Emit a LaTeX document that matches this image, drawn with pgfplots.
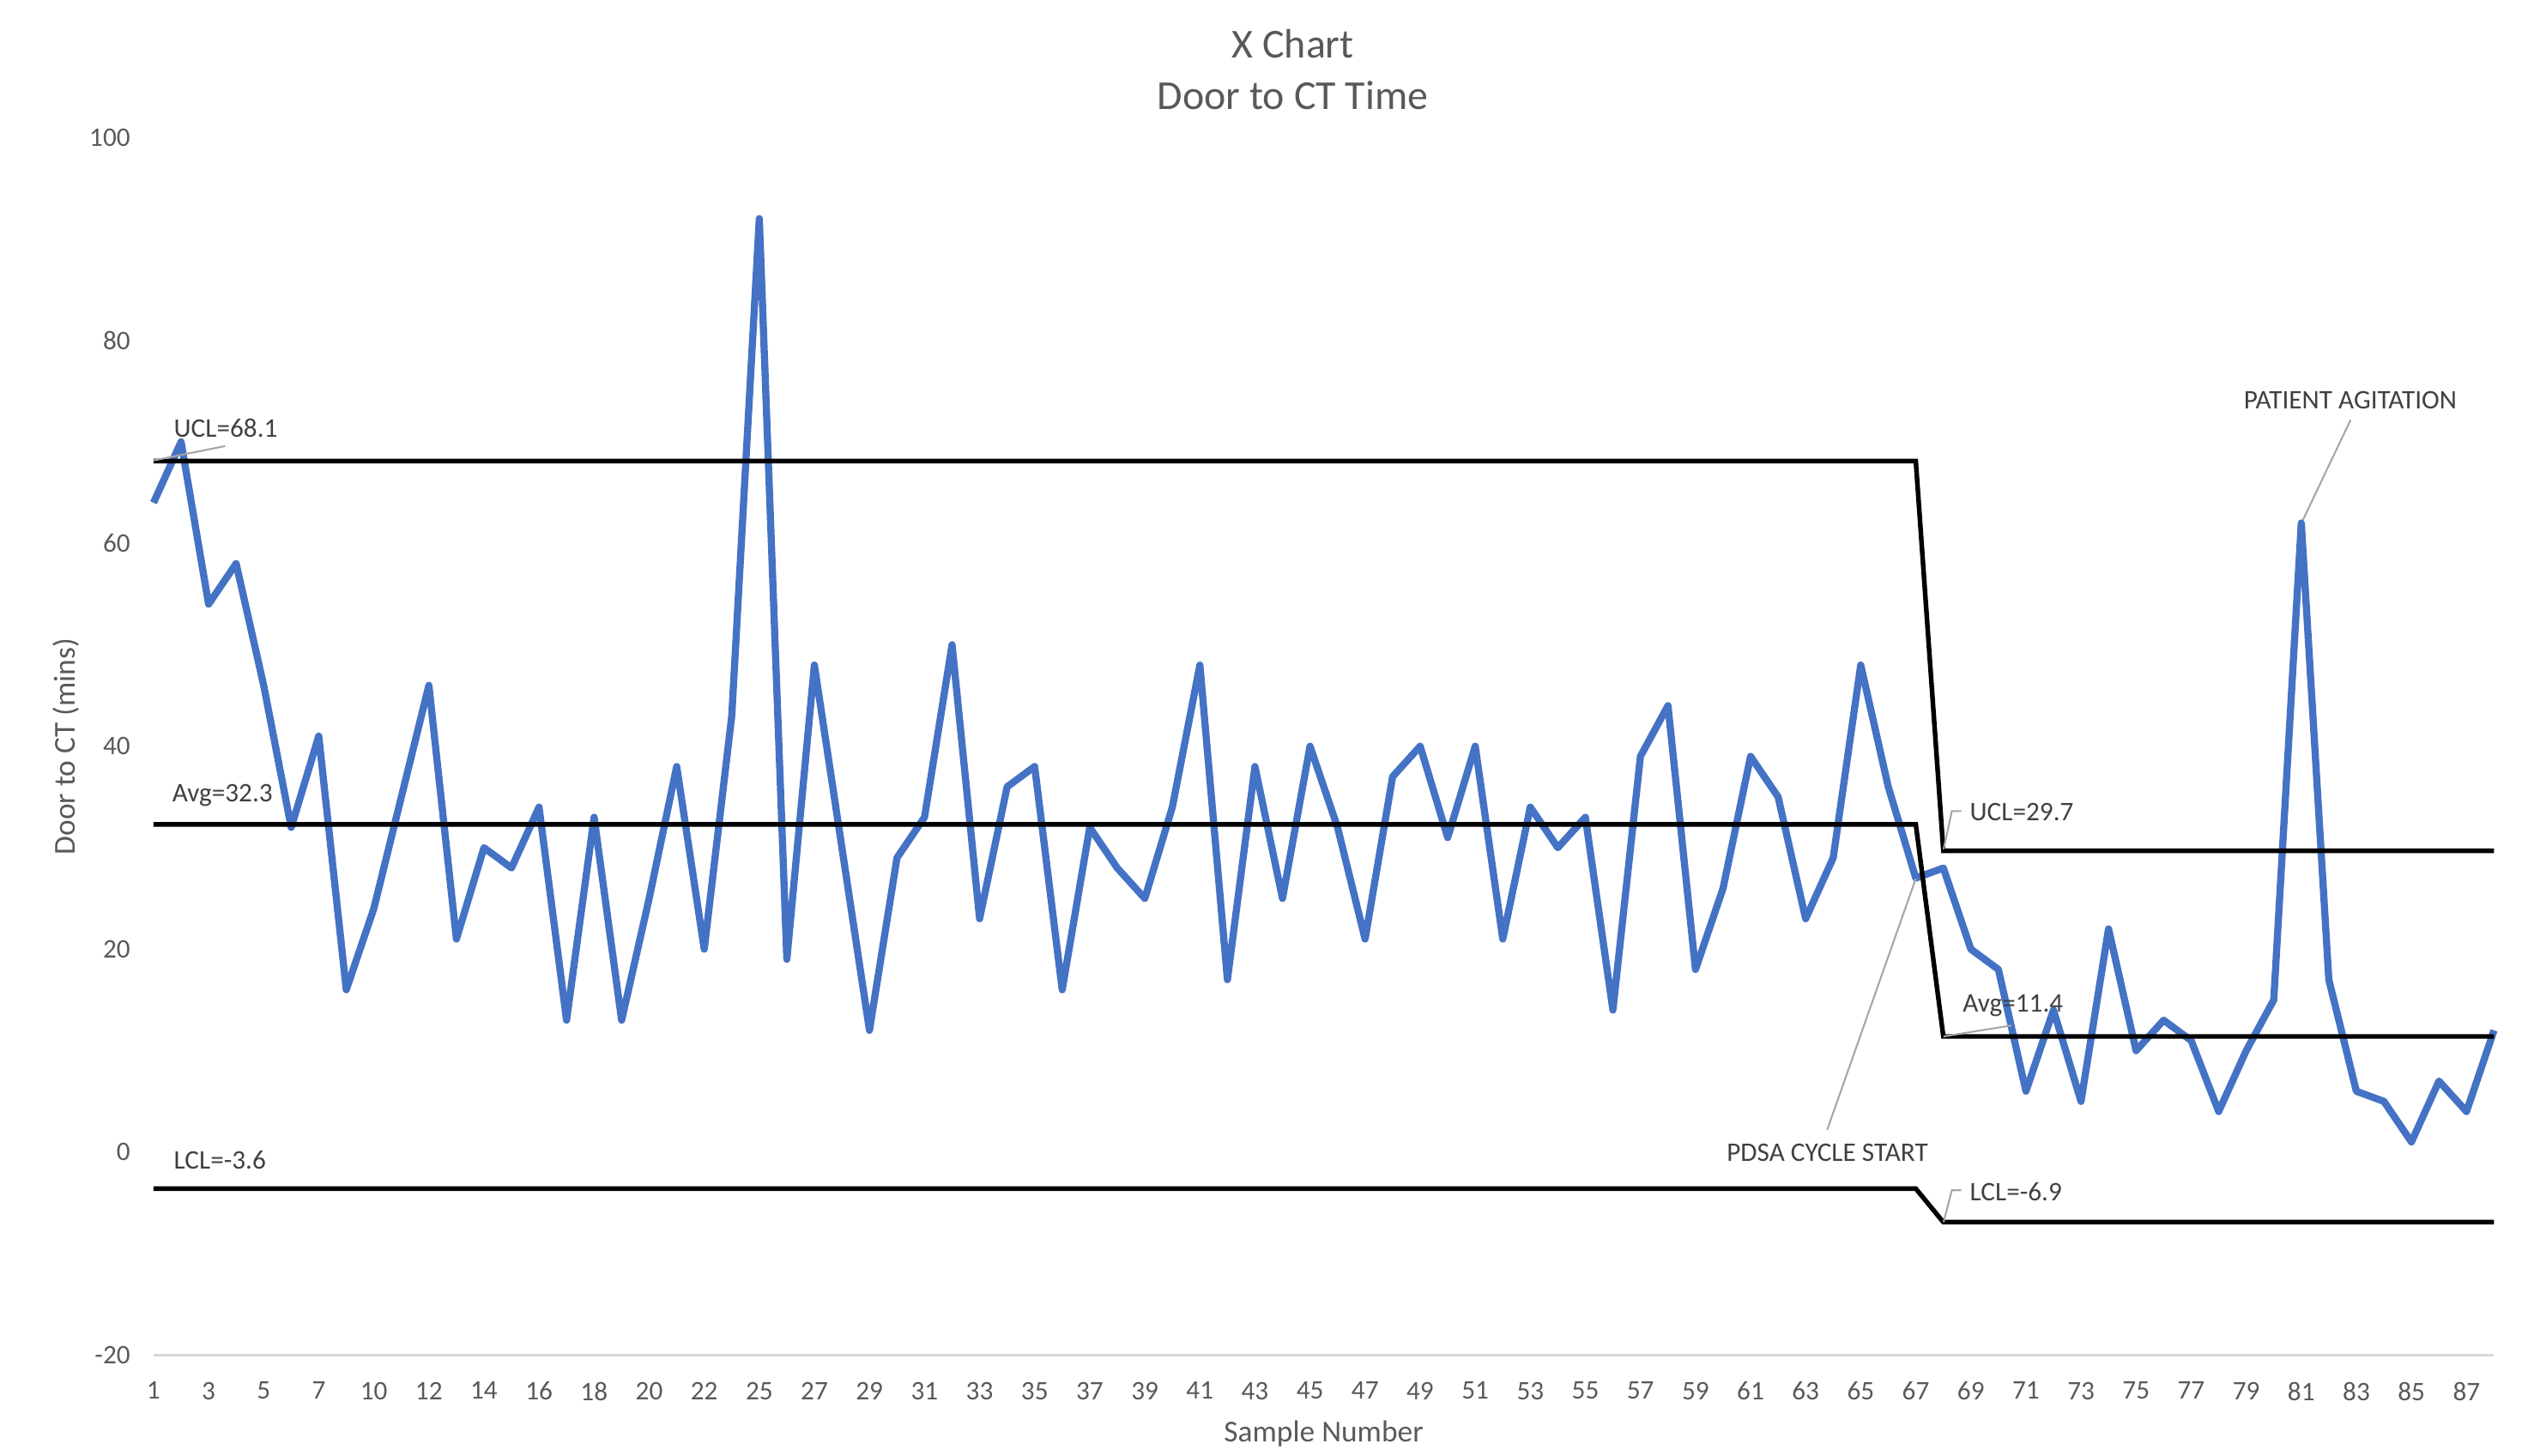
\documentclass[border=0pt]{standalone}
\usepackage{fontspec}
\setmainfont{Carlito}
\usepackage{pgfplots}
\pgfplotsset{compat=1.18}
\definecolor{txt}{HTML}{595959}
\definecolor{lbl}{HTML}{404040}
\definecolor{ser}{HTML}{4472C4}
\definecolor{axl}{HTML}{D9D9D9}
\definecolor{lead}{HTML}{A6A6A6}
\begin{document}
\begin{tikzpicture}
\path[use as bounding box] (0,0) rectangle (708.72pt,407.04pt);
\node[text=txt, font=\fontsize{11.5}{13}\selectfont] at (361.6pt,394.8pt) {X Chart};
\node[text=txt, font=\fontsize{11.5}{13}\selectfont] at (361.6pt,380.4pt) {Door to CT Time};
\node[text=txt, font=\fontsize{8.5}{10}\selectfont, rotate=90] at (18.6pt,198.2pt) {Door to CT (mins)};
\node[text=txt, font=\fontsize{8.5}{10}\selectfont] at (370.2pt,6.1pt) {Sample Number};
\begin{axis}[
  at={(42.94pt,28pt)}, anchor=south west, scale only axis,
  width=654.6pt, height=340.6pt,
  xmin=0, xmax=85, ymin=-20, ymax=100,
  ytick={-20,0,20,40,60,80,100},
  yticklabels={-20,0,20,40,60,80,100},
  xtick={0,2,...,84},
  xticklabels={1,3,5,7,10,12,14,16,18,20,22,25,27,29,31,33,35,37,39,41,43,45,47,49,51,53,55,57,59,61,63,65,67,69,71,73,75,77,79,81,83,85,87},
  axis line style={draw=none},
  major tick length=0pt,
  tick label style={text=txt, font=\fontsize{7.5}{9}\selectfont},
  yticklabel style={xshift=-3pt},
  xticklabel style={yshift=-4pt},
  clip=false,
]
\draw[axl, line width=0.6pt] (axis cs:0,-20) -- (axis cs:85,-20);
\addplot[ser, line width=2pt, line join=round, mark=none] coordinates {
(0,64) (1,70) (2,54) (3,58) (4,46) (5,32) (6,41) (7,16) (8,24) (9,35)
(10,46) (11,21) (12,30) (13,28) (14,34) (15,13) (16,33) (17,13) (18,25) (19,38)
(20,20) (21,43) (22,92) (23,19) (24,48) (25,30) (26,12) (27,29) (28,33) (29,50)
(30,23) (31,36) (32,38) (33,16) (34,32) (35,28) (36,25) (37,34) (38,48) (39,17)
(40,38) (41,25) (42,40) (43,32) (44,21) (45,37) (46,40) (47,31) (48,40) (49,21)
(50,34) (51,30) (52,33) (53,14) (54,39) (55,44) (56,18) (57,26) (58,39) (59,35)
(60,23) (61,29) (62,48) (63,36) (64,27) (65,28) (66,20) (67,18) (68,6) (69,14)
(70,5) (71,22) (72,10) (73,13) (74,11) (75,4) (76,10) (77,15) (78,62) (79,17)
(80,6) (81,5) (82,1) (83,7) (84,4) (85,12)
};
\addplot[black, line width=1.3pt, mark=none] coordinates {(0,68.1) (64,68.1) (65,29.7) (85,29.7)};
\addplot[black, line width=1.3pt, mark=none] coordinates {(0,32.3) (64,32.3) (65,11.4) (85,11.4)};
\addplot[black, line width=1.3pt, mark=none] coordinates {(0,-3.6) (64,-3.6) (65,-6.9) (85,-6.9)};
% leader lines
\draw[lead, line width=0.5pt] (axis cs:2.6,69.58) -- (axis cs:0.01,68.17);
\draw[lead, line width=0.5pt] (axis cs:65.65,33.61) -- (axis cs:65.31,33.61) -- (axis cs:65.01,29.86);
\draw[lead, line width=0.5pt] (axis cs:67.47,12.48) -- (axis cs:65.01,11.4);
\draw[lead, line width=0.5pt] (axis cs:65.65,-3.76) -- (axis cs:65.31,-3.76) -- (axis cs:65.01,-6.89);
\draw[lead, line width=0.5pt] (axis cs:60.78,2.18) -- (axis cs:64.0,26.96);
\draw[lead, line width=0.5pt] (axis cs:79.79,72.16) -- (axis cs:78.06,62.3);
% labels
\begin{scope}[every node/.style={text=lbl, font=\fontsize{7.5}{9}\selectfont, inner sep=0pt}]
\node[anchor=west] at (axis cs:0.714,71.38) {UCL=68.1};
\node[anchor=west] at (axis cs:0.658,35.17) {Avg=32.3};
\node[anchor=west] at (axis cs:0.714,-0.78) {LCL=-3.6};
\node[anchor=west] at (axis cs:65.94,33.47) {UCL=29.7};
\node[anchor=west] at (axis cs:65.68,14.44) {Avg=11.4};
\node[anchor=west] at (axis cs:65.94,-3.9) {LCL=-6.9};
\node at (axis cs:60.79,-0.02) {PDSA CYCLE START};
\node at (axis cs:79.78,74.14) {PATIENT AGITATION};
\end{scope}
\end{axis}
\end{tikzpicture}
\end{document}
